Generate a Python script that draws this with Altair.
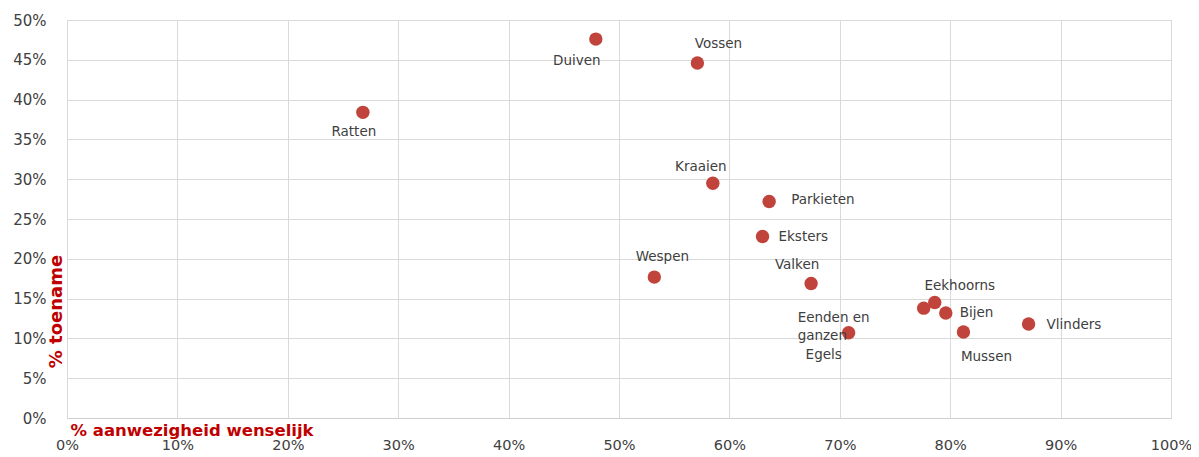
import altair as alt
import pandas as pd

dieren = ["Ratten", "Duiven", "Vossen", "Kraaien", "Parkieten", "Eksters", "Wespen",
          "Valken", "Eenden en ganzen", "Egels", "Eekhoorns", "Bijen", "Mussen", "Vlinders"]
aanwezigheid = [0.268, 0.479, 0.571, 0.585, 0.636, 0.630, 0.532,
                0.674, 0.708, 0.776, 0.786, 0.796, 0.812, 0.871]
toename = [0.384, 0.476, 0.446, 0.295, 0.272, 0.228, 0.177,
           0.169, 0.107, 0.138, 0.145, 0.132, 0.108, 0.118]
x_ticks = [0.0, 0.1, 0.2, 0.3, 0.4, 0.5, 0.6, 0.7, 0.8, 0.9, 1.0]
y_ticks = [0.0, 0.05, 0.1, 0.15, 0.2, 0.25, 0.3, 0.35, 0.4, 0.45, 0.5]

df = pd.DataFrame({"dier": dieren, "x": aanwezigheid, "y": toename,
                   "label": [d.replace("Eenden en ganzen", "Eenden en\nganzen") for d in dieren]})

RED = "#c1443c"
TXT = "#404040"
FONT = "DejaVu Sans"

xs = alt.X("x:Q", scale=alt.Scale(domain=[0, 1], nice=False),
           axis=alt.Axis(values=x_ticks, format=".0%",
                         title="% aanwezigheid wenselijk", titleColor="#c00000",
                         titleFont=FONT, titleFontSize=16.5, titleFontWeight="bold",
                         titleAnchor="start", titleAlign="left", titleX=3, titleY=12,
                         titleBaseline="middle",
                         labelFont=FONT, labelFontSize=14.5, labelColor=TXT,
                         labelPadding=20, ticks=False, tickSize=0, labelOverlap=False,
                         domainColor="#cfcfcf", gridColor="#d9d9d9",
                         labelFlush=False))
ys = alt.Y("y:Q", scale=alt.Scale(domain=[0, 0.5], nice=False),
           axis=alt.Axis(values=y_ticks, format=".0%",
                         title="% toename", titleColor="#c00000",
                         titleFont=FONT, titleFontSize=18, titleFontWeight="bold",
                         titleX=-11, titleY=291, titleAlign="center", titleBaseline="middle",
                         titleAngle=270,
                         labelFont=FONT, labelFontSize=15, labelColor=TXT,
                         labelPadding=21, ticks=False, tickSize=0, labelOverlap=False,
                         domainColor="#d9d9d9", gridColor="#d9d9d9"))

base = alt.Chart(df)
points = base.mark_circle(size=180, color=RED, opacity=1).encode(x=xs, y=ys)

offsets = {
    "Ratten": (-9, 20, "center"),
    "Duiven": (-19, 22, "center"),
    "Vossen": (21, -19, "center"),
    "Kraaien": (-12, -16, "center"),
    "Parkieten": (22, -1, "left"),
    "Eksters": (16, 0, "left"),
    "Wespen": (8, -20, "center"),
    "Valken": (-14, -18, "center"),
    "Eenden en ganzen": (-51, -15, "left"),
    "Egels": (-100, 47, "center"),
    "Eekhoorns": (25, -17, "center"),
    "Bijen": (14, 0, "left"),
    "Mussen": (23, 25, "center"),
    "Vlinders": (18, 1, "left"),
}

layers = [points]
for name, (dx, dy, al) in offsets.items():
    layers.append(
        base.transform_filter(alt.datum.dier == name)
        .mark_text(dx=dx, dy=dy, align=al, baseline="middle", font=FONT,
                   fontSize=13.5, color=TXT, lineBreak="\n", lineHeight=18)
        .encode(x=xs, y=ys, text="label:N")
    )

chart = alt.layer(*layers).properties(
    width=1104, height=398,
    autosize=alt.AutoSizeParams(type="none"),
    padding={"left": 59, "top": 12, "right": 20, "bottom": 35},
).configure_view(stroke="#d9d9d9").configure(background="white")

chart.save("out.html", embed_options={"renderer": "svg", "actions": False})
